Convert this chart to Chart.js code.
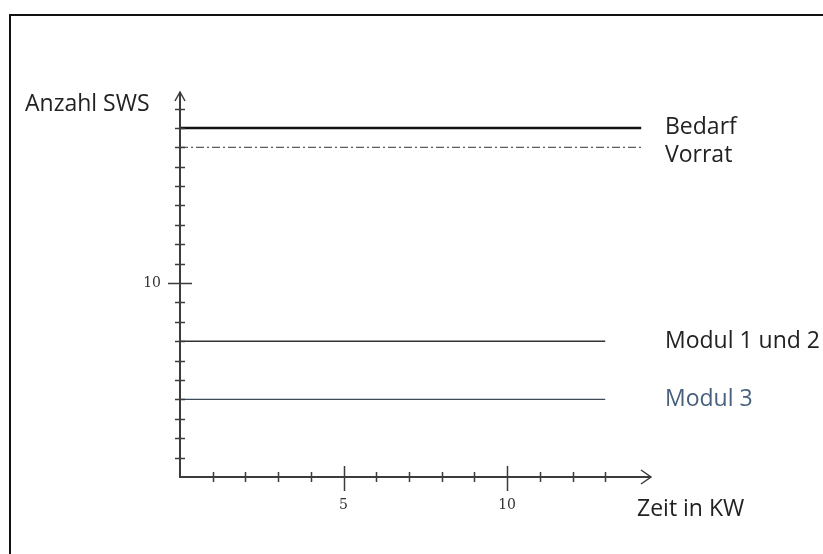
<!DOCTYPE html>
<html>
<head>
<meta charset="utf-8">
<script src="https://cdn.jsdelivr.net/npm/chart.js@4"></script>
<style>
  html, body { margin: 0; padding: 0; background: #fff; overflow: hidden; }
  #wrap { position: relative; width: 823px; height: 554px; overflow: hidden; }
  #frame { position: absolute; left: 9px; top: 14px; width: 900px; height: 700px; border: 2px solid #111; }
  canvas { position: absolute; left: 0; top: 0; }
</style>
</head>
<body>
<div id="wrap">
  <div id="frame"></div>
  <canvas id="chart" width="823" height="554"></canvas>
</div>
<script>
// Werte aus der Vorlage
const seriesNames = ['Bedarf', 'Vorrat', 'Modul 1 und 2', 'Modul 3'];
const seriesLevels = [18, 17, 7, 4];          // Anzahl SWS
const seriesStartKW = [0, 0, 0, 0];
const seriesEndKW = [14.1, 14.1, 13, 13];
const xTicks = [1, 2, 3, 4, 5, 6, 7, 8, 9, 10, 11, 12, 13];
const xTickLabels = [5, 10];
const yTicks = [1, 2, 3, 4, 5, 6, 7, 8, 9, 10, 11, 12, 13, 14, 15, 16, 17, 18, 19];
const yTickLabels = [10];
const xMax = 14.4;
const yMax = 19.8;

const lineColors = ['#111111', '#333333', '#333333', '#3d4a58'];
const lineWidths = [2.5, 1, 1.6, 1.2];
const lineDashes = [[], [8, 3, 2, 3], [], []];
const textColors = ['#222222', '#222222', '#222222', '#48607c'];
const textOffsets = [0, 8, 0, 0];

const axisColor = '#3c3c3c';
const labelFont = '23px "Open Sans", sans-serif';
const tickFont = '14px "DejaVu Serif", serif';

const datasets = seriesNames.map((name, i) => ({
    label: name,
    data: [
        { x: seriesStartKW[i], y: seriesLevels[i] },
        { x: seriesEndKW[i], y: seriesLevels[i] }
    ],
    borderColor: lineColors[i],
    borderWidth: lineWidths[i],
    borderDash: lineDashes[i],
    pointRadius: 0,
    fill: false,
    tension: 0
}));

// Achsen mit Pfeilen und Strichen, wie in der Skizze
const sketchAxes = {
    id: 'sketchAxes',
    afterDatasetsDraw(chart) {
        const ctx = chart.ctx;
        const xs = chart.scales.x;
        const ys = chart.scales.y;
        const x0 = xs.getPixelForValue(0);
        const y0 = ys.getPixelForValue(0);
        const xEnd = xs.getPixelForValue(xMax);
        const yEnd = ys.getPixelForValue(yMax);

        ctx.save();
        ctx.strokeStyle = axisColor;
        ctx.lineWidth = 2;
        ctx.beginPath();
        ctx.moveTo(x0, y0);
        ctx.lineTo(xEnd, y0);
        ctx.moveTo(x0, y0 + 1);
        ctx.lineTo(x0, yEnd);
        ctx.stroke();

        // Pfeilspitzen
        ctx.lineWidth = 1.5;
        ctx.beginPath();
        ctx.moveTo(xEnd - 10, y0 - 7);
        ctx.lineTo(xEnd, y0);
        ctx.lineTo(xEnd - 10, y0 + 7);
        ctx.moveTo(x0 - 5, yEnd + 8);
        ctx.lineTo(x0, yEnd - 1);
        ctx.lineTo(x0 + 5, yEnd + 8);
        ctx.stroke();

        // Striche
        ctx.lineWidth = 1.5;
        ctx.beginPath();
        xTicks.forEach(v => {
            const px = Math.round(xs.getPixelForValue(v)) + 0.5;
            if (xTickLabels.includes(v)) {
                ctx.moveTo(px, y0 - 11);
                ctx.lineTo(px, y0 + 14);
            } else {
                ctx.moveTo(px, y0 - 5);
                ctx.lineTo(px, y0 + 5);
            }
        });
        yTicks.forEach(v => {
            const py = Math.round(ys.getPixelForValue(v)) + 0.5;
            if (yTickLabels.includes(v)) {
                ctx.moveTo(x0 - 12, py);
                ctx.lineTo(x0 + 12, py);
            } else {
                ctx.moveTo(x0 - 5, py);
                ctx.lineTo(x0 + 5, py);
            }
        });
        ctx.stroke();

        // Beschriftung der Striche
        ctx.fillStyle = '#333';
        ctx.font = tickFont;
        ctx.textBaseline = 'middle';
        ctx.textAlign = 'center';
        xTickLabels.forEach(v => {
            ctx.fillText(String(v), xs.getPixelForValue(v), y0 + 28);
        });
        ctx.textAlign = 'right';
        yTickLabels.forEach(v => {
            ctx.fillText(String(v), x0 - 19, ys.getPixelForValue(v));
        });

        // Achsentitel
        ctx.fillStyle = '#222';
        ctx.font = labelFont;
        ctx.textAlign = 'left';
        ctx.fillText('Anzahl SWS', 25, yEnd + 11);
        ctx.fillText('Zeit in KW', xEnd - 14, y0 + 32);

        // Reihennamen rechts neben den Linien
        seriesNames.forEach((name, i) => {
            ctx.fillStyle = textColors[i];
            ctx.fillText(name, xEnd + 14, ys.getPixelForValue(seriesLevels[i]) + textOffsets[i]);
        });
        ctx.restore();
    }
};

new Chart(document.getElementById('chart'), {
    type: 'line',
    data: { datasets: datasets },
    options: {
        responsive: false,
        animation: false,
        layout: { padding: { left: 180, right: 172, top: 93, bottom: 77 } },
        scales: {
            x: { type: 'linear', min: 0, max: xMax, display: false },
            y: { type: 'linear', min: 0, max: yMax, display: false }
        },
        plugins: {
            legend: { display: false },
            tooltip: { enabled: false }
        }
    },
    plugins: [sketchAxes]
});
</script>
</body>
</html>
